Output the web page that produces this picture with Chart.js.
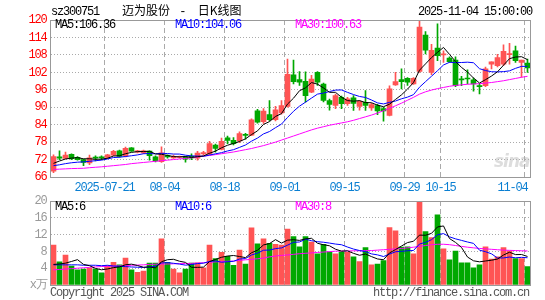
<!DOCTYPE html>
<html><head><meta charset="utf-8">
<script src="https://cdn.jsdelivr.net/npm/chart.js@4/dist/chart.umd.min.js"></script>
<style>
html,body{margin:0;padding:0;background:#fff;}
#wrap{position:relative;width:545px;height:300px;overflow:hidden;background:#fff;}
canvas{position:absolute;left:0;}
.t{position:absolute;font-family:'Liberation Mono',monospace;font-size:12px;letter-spacing:-1.2px;line-height:12px;white-space:pre;}
.cjk{position:absolute;font-family:'Noto Sans CJK SC',sans-serif;font-size:12px;line-height:12px;white-space:pre;color:#000;}
.cjk .m{font-family:'Liberation Mono',monospace;letter-spacing:2px;}
</style></head><body>
<div id="wrap">
<canvas id="pc" width="545" height="200" style="top:0"></canvas>
<canvas id="vc" width="545" height="105" style="top:195px"></canvas>
<div class="t" style="left:51px;top:6px;color:#000">sz300751</div>
<div class="cjk" style="left:122px;top:4px">迈为股份<span class="m"> - </span>日K线图</div>
<div class="t" style="left:418px;top:6px;color:#000">2025-11-04 15:00:00</div>
<div class="t" id="ma5t" style="left:55px;top:19px;color:#000"></div>
<div class="t" id="ma10t" style="left:175px;top:19px;color:#0000ff"></div>
<div class="t" id="ma30t" style="left:295px;top:19px;color:#ff00ff"></div>
<div class="t" id="vma5t" style="left:55px;top:201px;color:#000"></div>
<div class="t" id="vma10t" style="left:175px;top:201px;color:#0000ff"></div>
<div class="t" id="vma30t" style="left:295px;top:201px;color:#ff00ff"></div>
<div style="position:absolute;left:494px;top:151px;font:italic bold 17px 'DejaVu Sans',sans-serif;color:rgba(180,180,180,0.45);letter-spacing:-1px">sina</div>
<div class="t" style="left:50px;top:287px;color:#555">Copyright 2025 SINA.COM</div>
<div class="t" style="left:373px;top:287px;color:#555">http://finance.sina.com.cn</div>
</div>
<script>
const dates = [
'2025-07-08','2025-07-09','2025-07-10','2025-07-11','2025-07-14','2025-07-15','2025-07-16','2025-07-17','2025-07-18','2025-07-21',
'2025-07-22','2025-07-23','2025-07-24','2025-07-25','2025-07-28','2025-07-29','2025-07-30','2025-07-31','2025-08-01','2025-08-04',
'2025-08-05','2025-08-06','2025-08-07','2025-08-08','2025-08-11','2025-08-12','2025-08-13','2025-08-14','2025-08-15','2025-08-18',
'2025-08-19','2025-08-20','2025-08-21','2025-08-22','2025-08-25','2025-08-26','2025-08-27','2025-08-28','2025-08-29','2025-09-01',
'2025-09-02','2025-09-03','2025-09-04','2025-09-05','2025-09-08','2025-09-09','2025-09-10','2025-09-11','2025-09-12','2025-09-15',
'2025-09-16','2025-09-17','2025-09-18','2025-09-19','2025-09-22','2025-09-23','2025-09-24','2025-09-25','2025-09-26','2025-09-29',
'2025-09-30','2025-10-09','2025-10-10','2025-10-13','2025-10-14','2025-10-15','2025-10-16','2025-10-17','2025-10-20','2025-10-21',
'2025-10-22','2025-10-23','2025-10-24','2025-10-27','2025-10-28','2025-10-29','2025-10-30','2025-10-31','2025-11-03','2025-11-04'];

const xTickDates  = ['2025-07-21','2025-08-04','2025-08-18','2025-09-01','2025-09-15','2025-09-29','2025-10-15','2025-11-04'];
const xTickLabels = ['2025-07-21','08-04','08-18','09-01','09-15','09-29','10-15','11-04'];

const opens = [
68.0,72.9,72.4,73.8,72.8,72.0,70.8,72.7,72.8,72.7,
73.5,75.0,73.2,76.0,74.5,74.3,74.9,72.9,71.3,73.4,
72.6,72.7,72.9,73.1,72.5,73.9,73.9,77.0,75.5,79.5,
78.6,78.4,80.6,80.4,88.8,85.0,87.5,85.7,88.0,90.3,
101.1,99.5,98.9,95.2,102.0,98.0,92.3,90.6,93.4,91.2,
93.2,90.3,91.7,89.8,90.6,89.5,87.2,97.7,99.5,99.9,
98.0,102.3,114.8,102.0,110.3,108.0,106.9,106.2,99.6,99.9,
99.4,97.3,97.4,104.8,104.3,104.8,108.1,109.4,105.4,105.2];
const closes = [
73.0,72.5,73.5,72.3,72.0,71.0,72.6,72.5,72.6,73.6,
74.8,73.1,75.9,74.9,75.0,75.0,73.3,71.5,74.3,72.9,
73.1,72.9,72.1,72.6,74.2,74.4,77.5,75.8,78.3,78.6,
77.5,80.9,80.3,85.7,84.9,88.7,85.7,89.1,90.6,101.3,
98.8,98.6,94.0,99.7,98.6,92.3,91.0,94.0,91.2,92.9,
91.3,92.0,90.6,90.9,88.7,88.7,96.3,98.8,98.8,98.6,
99.9,117.6,109.6,109.6,107.7,108.3,105.7,97.4,99.4,99.7,
98.0,97.1,103.2,105.6,107.1,109.2,108.4,106.0,106.2,103.5];
const highs = [
73.6,75.0,74.6,74.0,73.0,72.2,73.5,73.3,73.3,73.8,
75.2,75.3,76.3,76.1,75.2,75.3,75.0,73.3,76.4,73.6,
73.5,73.2,73.1,74.0,74.8,74.8,78.3,77.3,79.4,80.1,
79.6,81.5,81.0,86.0,89.3,89.5,92.3,90.3,92.3,106.6,
106.2,102.3,102.2,101.0,102.3,98.3,92.8,94.5,93.8,93.4,
94.0,92.3,95.7,91.3,91.0,90.0,97.4,102.0,103.2,100.2,
100.2,119.7,116.0,111.6,118.7,109.4,107.3,107.3,100.6,102.9,
100.0,98.0,103.8,105.6,108.2,111.5,112.0,111.0,106.2,106.6];
const lows = [
67.5,72.0,72.2,72.0,71.8,69.9,70.2,71.5,72.0,72.3,
73.3,72.8,72.9,74.8,74.3,74.0,71.8,71.2,71.0,72.5,
72.4,72.5,71.1,72.0,71.8,73.6,73.7,74.5,75.3,77.5,
77.0,77.8,79.0,80.2,84.5,84.4,85.3,85.3,87.6,90.0,
98.0,97.5,91.7,95.0,97.5,91.8,89.0,89.5,89.5,90.6,
88.9,89.0,88.9,88.9,87.4,85.2,87.0,97.5,96.3,97.5,
97.8,102.0,108.3,101.2,106.0,105.4,105.4,97.1,97.4,98.0,
95.5,94.6,97.1,103.2,103.9,104.3,104.8,105.4,100.3,102.0];

const ma5 = [
70.7,71.5,72.2,72.5,72.66,72.26,72.28,72.08,72.14,72.46,
73.22,73.32,74.0,74.46,74.74,74.78,74.82,73.94,73.82,73.4,
73.02,72.94,73.06,72.72,72.98,73.24,74.16,74.9,76.04,76.92,
77.54,78.22,79.12,80.6,81.86,84.1,85.06,86.82,87.8,91.08,
93.1,95.68,96.66,98.48,97.94,96.64,95.12,95.12,93.42,92.28,
92.08,92.28,91.6,91.54,90.7,90.18,91.04,92.68,94.26,96.24,
98.48,102.74,104.9,107.06,108.88,110.56,108.18,105.74,103.7,102.1,
100.04,98.32,99.48,100.72,102.2,104.44,106.7,107.26,107.38,106.36];
const ma10 = [
69.9,70.2,70.6,70.9,71.1,71.2,71.4,71.6,71.8,72.2,
72.7,72.8,73.05,73.31,73.6,74.0,74.07,73.97,74.14,74.07,
73.9,73.88,73.5,73.27,73.19,73.13,73.55,73.98,74.38,74.95,
75.39,76.19,77.01,78.32,79.39,80.82,81.64,82.97,84.2,86.47,
88.6,90.37,91.74,93.14,94.51,94.87,95.4,95.89,95.95,95.11,
94.36,93.7,93.36,92.48,91.49,91.13,91.66,92.14,92.9,93.47,
94.33,96.89,98.79,100.66,102.56,104.52,105.46,105.32,105.38,105.49,
105.3,103.25,102.61,102.21,102.15,102.24,102.51,103.37,104.05,104.06];
const ma30 = [
68.6,68.7,68.8,68.9,68.95,69.0,69.2,69.35,69.5,69.7,
69.9,70.1,70.3,70.6,70.8,71.0,71.2,71.4,71.6,71.8,
72.0,72.2,72.4,72.6,72.9,73.2,73.4,73.7,74.0,74.3,
74.6,75.0,75.4,75.8,76.3,76.8,77.4,78.0,78.7,79.4,
80.1,80.8,81.5,82.2,82.8,83.3,83.8,84.2,84.6,85.0,
85.5,86.1,86.7,87.3,88.0,88.8,89.6,90.5,91.4,92.4,
93.4,94.5,95.3,95.9,96.4,96.8,97.2,97.5,97.7,97.9,
98.0,98.1,98.3,98.5,98.8,99.1,99.5,99.9,100.3,100.63];

const volumes = [
9.5,5.5,7.1,4.5,3.6,3.8,4.0,3.8,2.9,4.6,
5.4,4.8,6.4,3.6,3.0,3.3,5.2,5.2,11.0,5.4,
3.8,2.9,3.8,5.2,5.3,4.1,9.5,6.3,7.8,6.8,
4.7,8.3,5.0,13.6,9.8,11.0,9.9,9.7,9.5,13.3,
11.5,9.1,11.5,10.2,7.4,9.7,7.9,7.4,7.9,7.8,
6.7,5.6,8.9,4.8,5.0,5.8,13.7,12.9,9.0,9.1,
7.4,21.0,12.7,11.3,16.7,8.6,6.0,8.1,5.3,5.3,
4.1,4.8,9.1,6.2,6.7,8.9,8.1,6.3,6.3,4.4];
const vma5 = [
4.9,5.0,5.2,5.6,6.04,4.9,4.6,3.94,3.62,3.82,
4.14,4.3,4.82,4.96,4.64,4.22,4.3,4.06,5.54,6.02,
6.12,5.66,5.38,4.22,4.2,4.26,5.58,6.08,6.6,6.9,
7.02,6.78,6.52,7.68,8.28,9.54,9.86,10.8,9.98,10.68,
10.78,10.62,10.98,11.12,9.94,9.58,9.34,8.52,8.06,8.14,
7.54,7.08,7.38,6.76,6.2,6.02,7.64,8.44,9.28,10.1,
10.42,11.88,11.84,12.3,13.82,14.06,11.06,10.14,8.94,6.66,
5.76,5.52,5.72,5.9,6.18,7.14,7.8,7.24,7.26,6.8];
const vma10 = [
4.8,4.8,4.8,4.8,4.8,4.7,4.7,4.7,4.6,4.7,
4.52,4.45,4.38,4.29,4.23,4.18,4.3,4.44,5.25,5.33,
5.17,4.98,4.72,4.88,5.11,5.19,5.62,5.73,5.41,5.55,
5.64,6.18,6.3,7.14,7.59,8.28,8.32,8.66,8.83,9.48,
10.16,10.24,10.89,10.55,10.31,10.18,9.98,9.75,9.59,9.04,
8.56,8.21,7.95,7.41,7.17,6.78,7.36,7.91,8.02,8.15,
8.22,9.76,10.14,10.79,11.96,12.24,11.47,10.99,10.62,10.24,
9.91,8.29,7.93,7.42,6.42,6.45,6.66,6.48,6.58,6.49];
const vma30 = [
3.6,3.7,3.8,3.9,4.0,4.1,4.2,4.3,4.4,4.45,
4.5,4.55,4.6,4.7,4.75,4.8,4.9,4.95,5.0,5.0,
5.05,5.1,5.1,5.15,5.2,5.3,5.4,5.5,5.6,5.65,
5.7,5.85,6.0,6.1,6.25,6.4,6.7,6.9,7.05,7.15,
7.3,7.45,7.55,7.65,7.75,7.85,7.95,8.05,8.1,8.1,
8.15,8.15,8.2,8.2,8.3,8.4,8.5,8.6,8.7,8.85,
9.0,9.2,9.4,9.6,9.7,9.7,9.6,9.4,9.2,9.0,
8.85,8.7,8.6,8.5,8.4,8.3,8.25,8.2,8.15,8.1];

const priceTicks = {min: 66, max: 120, step: 6};
const volTicks = {min: 0, max: 20, step: 4, unit: 'x万'};
const legendPrice = ['MA5:106.36', 'MA10:104.06', 'MA30:100.63'];
const legendVol = ['MA5:6', 'MA10:6', 'MA30:8'];

document.getElementById('ma5t').textContent = legendPrice[0];
document.getElementById('ma10t').textContent = legendPrice[1];
document.getElementById('ma30t').textContent = legendPrice[2];
document.getElementById('vma5t').textContent = legendVol[0];
document.getElementById('vma10t').textContent = legendVol[1];
document.getElementById('vma30t').textContent = legendVol[2];

const RED = '#ff5454', GREEN = '#00a800';
const candleColors = closes.map((c, i) => c >= opens[i] ? RED : GREEN);
const gridIdx = new Set(xTickDates.map(d => dates.indexOf(d)));
const MONO = "'Liberation Mono', monospace";

const spacing = {id:'sp', beforeLayout(c){c.ctx.letterSpacing='-1.2px';}, beforeDraw(c){c.ctx.letterSpacing='-1.2px';}};
const box = {id:'box', afterDraw(chart){
  const {ctx, chartArea:a} = chart;
  ctx.save(); ctx.setLineDash([]); ctx.strokeStyle='#999'; ctx.lineWidth=1;
  ctx.strokeRect(Math.floor(a.left)+0.5, Math.floor(a.top)+0.5, Math.round(a.right-a.left), Math.round(a.bottom-a.top));
  ctx.restore();
}};

function xScale(showTicks){
  return {
    type:'category', offset:true,
    grid:{offset:true, drawTicks:false, lineWidth:1,
      color: c => gridIdx.has(c.index) ? '#aaaaaa' : 'rgba(0,0,0,0)'},
    border:{display:false, dash:[5,3]},
    ticks:{display:showTicks, autoSkip:false, maxRotation:0, minRotation:0, padding:4, labelOffset:-3,
      color:'#0a7fd2', font:{family:MONO, size:12},
      callback:(v, i) => {
        const k = xTickDates.indexOf(dates[i]);
        if (k < 0) return '';
        return i === dates.length - 1 ? xTickLabels[k] + '    ' : xTickLabels[k];
      }},
    afterFit: s => { s.height = showTicks ? 23 : 0; s.paddingLeft = 0; s.paddingRight = 0; }
  };
}
function yScale(t, color, cb){
  return {min:t.min, max:t.max,
    ticks:{stepSize:t.step, autoSkip:false, color, padding:4, font:{family:MONO, size:12}, callback:cb},
    grid:{drawTicks:false, color:'#aaaaaa', lineWidth:1},
    border:{display:false, dash:[1,2]},
    afterFit: s => { s.width = 50.5; s.paddingTop = 0; s.paddingBottom = 0; }};
}
function lineDs(data, color){
  return {type:'line', data, borderColor:color, borderWidth:1, pointRadius:0, tension:0, fill:false, order:0};
}
const common = {
  responsive:false, animation:false, events:[], devicePixelRatio:1,
  plugins:{legend:{display:false}, tooltip:{enabled:false}}
};

new Chart(document.getElementById('pc'), {
  type:'bar',
  data:{labels:dates, datasets:[
    lineDs(ma5, '#000000'), lineDs(ma10, '#0000ff'), lineDs(ma30, '#ff00ff'),
    {type:'bar', data:opens.map((o,i)=>[o, closes[i]]), backgroundColor:candleColors, barThickness:5, grouped:false, minBarLength:1, order:1},
    {type:'bar', data:lows.map((l,i)=>[l, highs[i]]), backgroundColor:candleColors, barThickness:1, grouped:false, order:2}
  ]},
  options:Object.assign({}, common, {
    layout:{padding:{left:0, right:14.5, top:20, bottom:0}},
    scales:{ x:xScale(true), y:yScale(priceTicks, '#ff0000', v => String(v)) }
  }),
  plugins:[spacing, box]
});

new Chart(document.getElementById('vc'), {
  type:'bar',
  data:{labels:dates, datasets:[
    lineDs(vma5, '#000000'), lineDs(vma10, '#0000ff'), lineDs(vma30, '#ff00ff'),
    {type:'bar', data:volumes, backgroundColor:candleColors, barThickness:5, grouped:false, order:1}
  ]},
  options:Object.assign({}, common, {
    layout:{padding:{left:0, right:14.5, top:6, bottom:15}},
    scales:{ x:xScale(false), y:yScale(volTicks, '#999999', v => v === 0 ? volTicks.unit : String(v)) }
  }),
  plugins:[spacing, box]
});
</script>
</body></html>
